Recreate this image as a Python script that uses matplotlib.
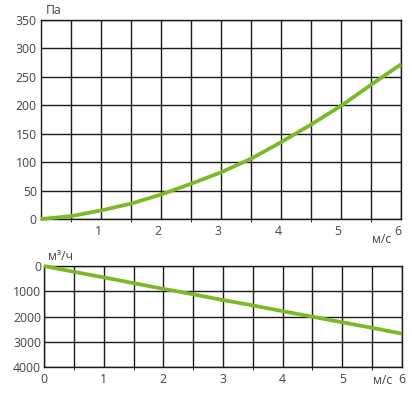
import matplotlib
matplotlib.use("Agg")
import matplotlib.pyplot as plt
from matplotlib.transforms import ScaledTranslation

# Data
speed = [0, 0.5, 1, 1.5, 2, 2.5, 3, 3.5, 4, 4.5, 5, 5.5, 6]
pressure = [0, 5, 15, 27, 43, 62, 82, 106, 135, 166, 199, 236, 272]
airflow = [0, 230, 450, 680, 905, 1120, 1350, 1560, 1790, 2010, 2230, 2450, 2680]

top_xticks = [1, 2, 3, 4, 5, 6]
top_yticks = [0, 50, 100, 150, 200, 250, 300, 350]
bot_xticks = [0, 1, 2, 3, 4, 5, 6]
bot_yticks = [0, 1000, 2000, 3000, 4000]
half_ticks = [0.5, 1.5, 2.5, 3.5, 4.5, 5.5]

GREEN = "#7ab928"
GRID = "#1a1a1a"
TEXT = "#444444"
FS = 8.8

plt.rcParams['font.family'] = ['Open Sans', 'DejaVu Sans']

W, H = 412, 393
fig = plt.figure(figsize=(W / 100, H / 100), dpi=100)


def style(ax):
    for s in ax.spines.values():
        s.set_color(GRID)
        s.set_linewidth(1.0)
    ax.tick_params(length=0, colors=TEXT, labelsize=FS)
    ax.grid(True, which='both', color=GRID, linewidth=1.0)
    ax.set_axisbelow(True)


# Top chart: pressure
ax1 = fig.add_axes([41 / W, 1 - 219 / H, 360 / W, 199 / H])
ax1.plot(speed, pressure, color=GREEN, lw=2.7, solid_capstyle='butt', zorder=3, clip_on=False)
ax1.set_xlim(0, 6)
ax1.set_ylim(0, 350)
ax1.set_xticks(top_xticks)
ax1.set_xticks(half_ticks, minor=True)
ax1.set_yticks(top_yticks)
style(ax1)
ax1.tick_params(axis='x', pad=4)
ax1.tick_params(axis='y', pad=3)
off = ScaledTranslation(-3 / 100, 0, fig.dpi_scale_trans)
for lab in ax1.get_xticklabels():
    lab.set_transform(lab.get_transform() + off)
fig.text(46 / W, 1 - 10 / H, "Па", ha='left', va='center', color=TEXT, fontsize=FS)
fig.text(382 / W, 1 - 239 / H, "м/с", ha='center', va='center', color=TEXT, fontsize=FS)

# Bottom chart: airflow
ax2 = fig.add_axes([44 / W, 1 - 367 / H, 358 / W, 101 / H])
ax2.plot(speed, airflow, color=GREEN, lw=2.7, solid_capstyle='butt', zorder=3, clip_on=False)
ax2.set_xlim(0, 6)
ax2.set_ylim(4000, 0)
ax2.set_xticks(bot_xticks)
ax2.set_xticks(half_ticks, minor=True)
ax2.set_yticks(bot_yticks)
style(ax2)
ax2.tick_params(axis='x', pad=4)
ax2.tick_params(axis='y', pad=2)
fig.text(61 / W, 1 - 256 / H, "м³/ч", ha='center', va='center', color=TEXT, fontsize=FS)
fig.text(383 / W, 1 - 381 / H, "м/с", ha='center', va='center', color=TEXT, fontsize=FS)

fig.savefig("out.png", dpi=100)
